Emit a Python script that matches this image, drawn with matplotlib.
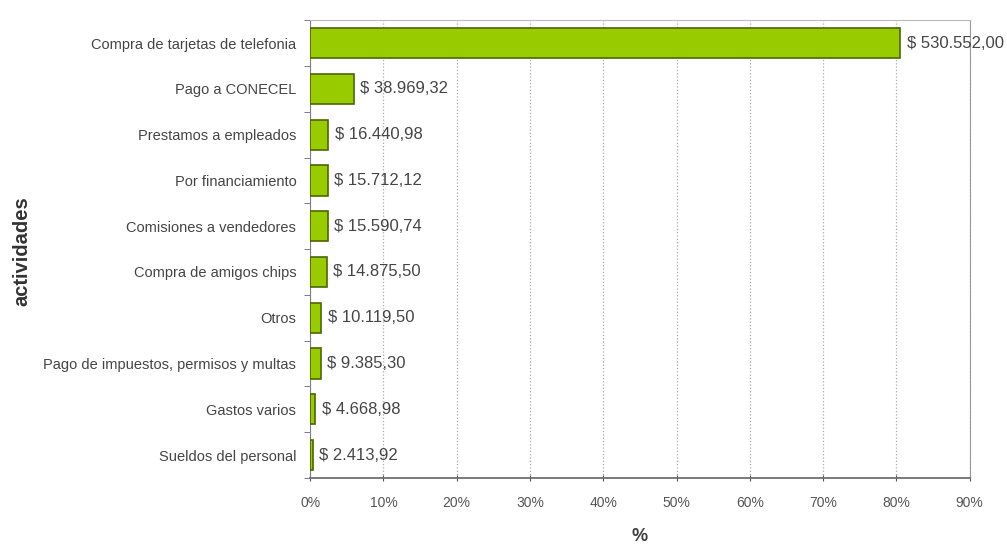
import numpy as np
import matplotlib.pyplot as plt
from matplotlib.ticker import FuncFormatter

# datos
actividades = ['Compra de tarjetas de telefonia', 'Pago a CONECEL', 'Prestamos a empleados',
               'Por financiamiento', 'Comisiones a vendedores', 'Compra de amigos chips',
               'Otros', 'Pago de impuestos, permisos y multas', 'Gastos varios',
               'Sueldos del personal']
montos = [530552.00, 38969.32, 16440.98, 15712.12, 15590.74, 14875.50,
          10119.50, 9385.30, 4668.98, 2413.92]
xticks = [0, 10, 20, 30, 40, 50, 60, 70, 80, 90]

montos = np.array(montos)
porcentaje = montos / montos.sum() * 100


def fmt_dinero(v):
    s = '{:,.2f}'.format(v)
    s = s.replace(',', 'X').replace('.', ',').replace('X', '.')
    return '$ ' + s


plt.rcParams['font.family'] = ['Liberation Sans', 'DejaVu Sans']

fig = plt.figure(figsize=(10.07, 5.45), dpi=100)
ax = fig.add_axes([0.308, 0.123, 0.655, 0.840])

y = np.arange(len(actividades))
ax.barh(y, porcentaje, height=0.66, color='#99cc00', edgecolor='#4d6600', linewidth=1.2, zorder=3)

for yi, p, m in zip(y, porcentaje, montos):
    ax.text(p + 0.9, yi, fmt_dinero(m), va='center', ha='left', fontsize=12, color='#454545', zorder=4)

ax.set_ylim(len(actividades) - 0.5, -0.5)
ax.set_xlim(0, 90)
ax.set_yticks(y)
ax.set_yticklabels(actividades, fontsize=10.5, color='#454545')
ax.set_yticks(np.arange(len(actividades) + 1) - 0.5, minor=True)
ax.tick_params(axis='y', which='major', length=0, pad=10)
ax.tick_params(axis='y', which='minor', length=4, color='#6060a0')
ax.set_xticks(xticks)
ax.xaxis.set_major_formatter(FuncFormatter(lambda v, _: '%d%%' % v))
ax.tick_params(axis='x', labelsize=10, colors='#555555', length=4, direction='inout', pad=11)

ax.grid(axis='x', color='#aaaaaa', linestyle=':', linewidth=0.9, zorder=0)

ax.spines['top'].set_color('#bbbbbb')
ax.spines['right'].set_color('#999999')
ax.spines['left'].set_color('#808080')
ax.spines['bottom'].set_color('#707070')
ax.spines['bottom'].set_linewidth(1.3)

ax.set_xlabel('%', fontsize=13, fontweight='bold', color='#404040', labelpad=13)
fig.text(0.022, 0.54, 'actividades', rotation=90, ha='center', va='center',
         fontsize=14.5, fontweight='bold', color='#333333')

fig.savefig('out.png', dpi=100)
